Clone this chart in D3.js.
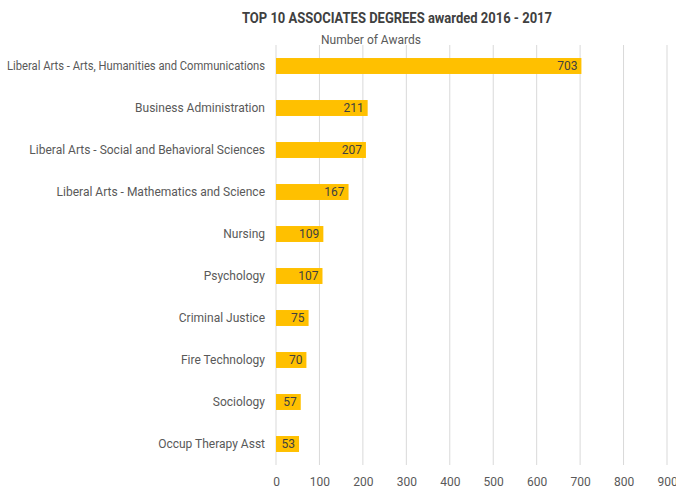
<!DOCTYPE html>
<html>
<head>
<meta charset="utf-8">
<script src="https://cdn.jsdelivr.net/npm/d3@7"></script>
<style>
  body { margin: 0; background: #fff; }
  text { font-family: Roboto, "Liberation Sans", sans-serif; }
</style>
</head>
<body>
<div id="chart"></div>
<script>
const programs = [
  "Liberal Arts - Arts, Humanities and Communications",
  "Business Administration",
  "Liberal Arts - Social and Behavioral Sciences",
  "Liberal Arts - Mathematics and Science",
  "Nursing",
  "Psychology",
  "Criminal Justice",
  "Fire Technology",
  "Sociology",
  "Occup Therapy Asst"
];
const awards = [703, 211, 207, 167, 109, 107, 75, 70, 57, 53];
const xTicks = [0, 100, 200, 300, 400, 500, 600, 700, 800, 900];

(() => {
  const width = 676, height = 491, margin = { top: 45, right: 9, bottom: 26, left: 276 };
  const data = programs.map((p, i) => ({ program: p, value: awards[i] }));

  const svg = d3.select("#chart").append("svg")
    .attr("width", width)
    .attr("height", height);

  const x = d3.scaleLinear()
    .domain([0, 900])
    .range([margin.left, 667]);

  const y = d3.scaleBand()
    .domain(programs)
    .range([margin.top, height - margin.bottom])
    .paddingInner(0.62)
    .paddingOuter(0.31);

  // gridlines
  svg.append("g")
    .selectAll("line")
    .data(xTicks)
    .enter()
    .append("line")
    .attr("x1", d => x(d)).attr("x2", d => x(d))
    .attr("y1", margin.top).attr("y2", height - margin.bottom)
    .attr("stroke", "#d9d9d9")
    .attr("stroke-width", 1);

  // x axis labels
  const xAxis = svg.append("g")
    .attr("transform", `translate(0,${height - margin.bottom})`)
    .call(d3.axisBottom(x).tickValues(xTicks).tickSize(0).tickPadding(12));
  xAxis.select(".domain").remove();
  xAxis.selectAll("text").attr("fill", "#595959").style("font-size", "12px");

  // y axis labels
  const yAxis = svg.append("g")
    .attr("transform", `translate(${margin.left},0)`)
    .call(d3.axisLeft(y).tickSize(0).tickPadding(11));
  yAxis.select(".domain").remove();
  yAxis.selectAll("text").attr("fill", "#595959").style("font-size", "12px");

  // shrink any label that would run past the left edge
  yAxis.selectAll("text").each(function() {
    const w = this.getComputedTextLength();
    if (w > 258) d3.select(this).attr("textLength", 258).attr("lengthAdjust", "spacingAndGlyphs");
  });

  // bars
  svg.selectAll(".bar")
    .data(data)
    .enter()
    .append("rect")
    .attr("class", "bar")
    .attr("x", x(0))
    .attr("y", d => y(d.program))
    .attr("width", d => x(d.value) - x(0))
    .attr("height", y.bandwidth())
    .attr("fill", "#ffc000");

  // value labels
  svg.selectAll(".val")
    .data(data)
    .enter()
    .append("text")
    .attr("class", "val")
    .attr("x", d => x(d.value) - 4)
    .attr("y", d => y(d.program) + y.bandwidth() / 2)
    .attr("dy", "0.36em")
    .attr("text-anchor", "end")
    .attr("fill", "#404040")
    .style("font-size", "12px")
    .text(d => d.value);

  // title
  const title = svg.append("text")
    .attr("x", 397)
    .attr("y", 23)
    .attr("text-anchor", "middle")
    .attr("fill", "#404040")
    .style("font-size", "14px")
    .style("font-weight", "bold")
    .text("TOP 10 ASSOCIATES DEGREES awarded 2016 - 2017");
  if (title.node().getComputedTextLength() > 310)
    title.attr("textLength", 310).attr("lengthAdjust", "spacingAndGlyphs");

  svg.append("text")
    .attr("x", 371)
    .attr("y", 44)
    .attr("text-anchor", "middle")
    .attr("fill", "#595959")
    .style("font-size", "12px")
    .text("Number of Awards");
})();
</script>
</body>
</html>
